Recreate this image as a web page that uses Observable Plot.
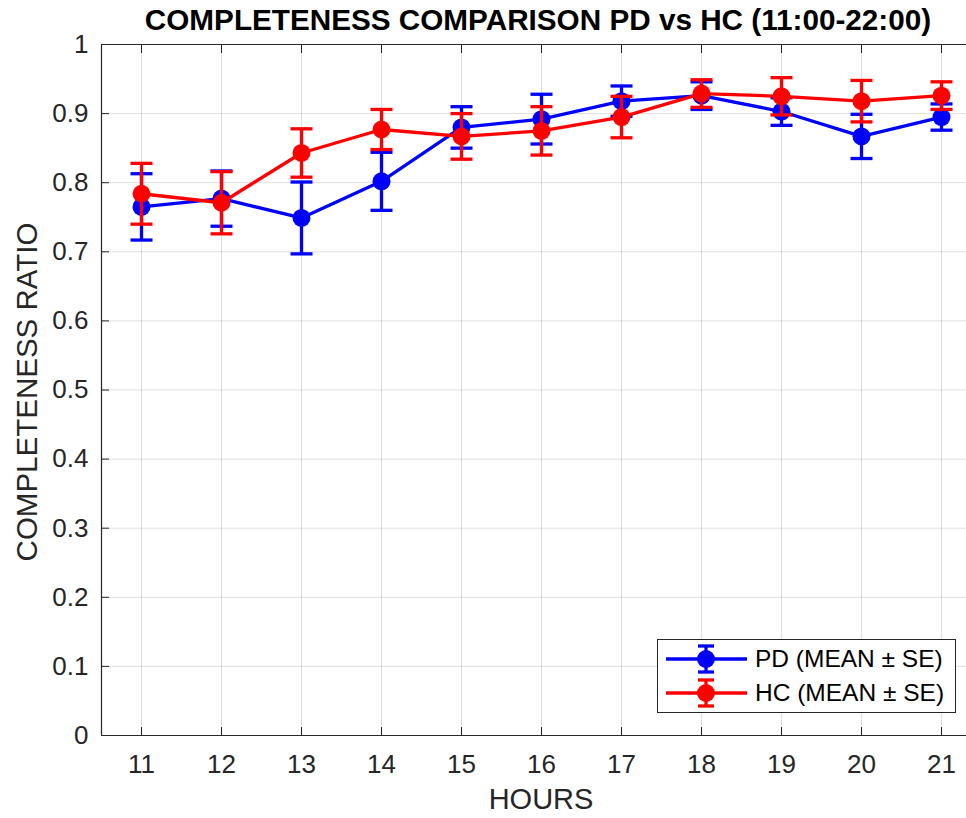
<!DOCTYPE html>
<html><head><meta charset="utf-8">
<script src="https://cdn.jsdelivr.net/npm/d3@7"></script>
<script src="https://cdn.jsdelivr.net/npm/@observablehq/plot@0.6"></script>
<style>
body{margin:0;background:#fff;font-family:"Liberation Sans",Arial,sans-serif;color:#262626;}
#wrap{position:relative;width:966px;height:818px;overflow:hidden;background:#fff;}
#wrap svg.plot{position:absolute;left:0;top:0;}
.title{position:absolute;left:98px;width:880px;top:3px;text-align:center;font-weight:bold;font-size:29.7px;color:#000;white-space:nowrap;}
.xlabel{position:absolute;left:101px;width:880px;top:783px;text-align:center;font-size:29px;}
.ylabel{position:absolute;left:27px;top:392px;transform:translate(-50%,-50%) rotate(-90deg);font-size:29.5px;white-space:nowrap;}
.legend{position:absolute;left:657px;top:639px;width:297px;height:72px;border:1px solid #262626;background:#fff;}
.legend svg{position:absolute;left:0;top:0;}
.legend .lt{position:absolute;left:97px;font-size:24.5px;color:#000;white-space:nowrap;line-height:1;}
</style></head><body><div id="wrap"></div>
<script>
const hours = [11, 12, 13, 14, 15, 16, 17, 18, 19, 20, 21];
const pdMean = [0.765, 0.777, 0.749, 0.802, 0.880, 0.892, 0.918, 0.926, 0.903, 0.867, 0.895];
const pdSE   = [0.048, 0.040, 0.052, 0.042, 0.030, 0.036, 0.022, 0.020, 0.020, 0.032, 0.019];
const hcMean = [0.784, 0.771, 0.843, 0.877, 0.867, 0.875, 0.895, 0.929, 0.925, 0.918, 0.926];
const hcSE   = [0.044, 0.045, 0.035, 0.029, 0.033, 0.035, 0.030, 0.020, 0.027, 0.030, 0.020];
const yTicks = [0, 0.1, 0.2, 0.3, 0.4, 0.5, 0.6, 0.7, 0.8, 0.9, 1];
const xDomain = [10.5, 21.5];
const yDomain = [0, 1];
const seriesNames = ["PD (MEAN \u00b1 SE)", "HC (MEAN \u00b1 SE)"];
const seriesColors = ["#0000ff", "#ff0000"];
const titleText = "COMPLETENESS COMPARISON PD vs HC (11:00-22:00)";
const xLabelText = "HOURS";
const yLabelText = "COMPLETENESS RATIO";

const pd = hours.map((h, i) => ({x: h, m: pdMean[i], lo: pdMean[i] - pdSE[i], hi: pdMean[i] + pdSE[i]}));
const hc = hours.map((h, i) => ({x: h, m: hcMean[i], lo: hcMean[i] - hcSE[i], hi: hcMean[i] + hcSE[i]}));
const cap = 0.1375;

function seriesMarks(data, color) {
  return [
    Plot.ruleX(data, {x: "x", y1: "lo", y2: "hi", stroke: color, strokeWidth: 3.3}),
    Plot.link(data, {x1: d => d.x - cap, x2: d => d.x + cap, y1: "hi", y2: "hi", stroke: color, strokeWidth: 3.3}),
    Plot.link(data, {x1: d => d.x - cap, x2: d => d.x + cap, y1: "lo", y2: "lo", stroke: color, strokeWidth: 3.3}),
    Plot.line(data, {x: "x", y: "m", stroke: color, strokeWidth: 3.3}),
    Plot.dot(data, {x: "x", y: "m", r: 9, fill: color, stroke: null})
  ];
}

const chart = Plot.plot({
  width: 966, height: 818,
  marginTop: 44, marginBottom: 83, marginLeft: 101, marginRight: 0,
  style: {fontFamily: "Liberation Sans, Arial, sans-serif", color: "#262626", background: "transparent"},
  x: {domain: xDomain, range: [101, 981]},
  y: {domain: yDomain},
  marks: [
    Plot.gridX(hours, {stroke: "#000", strokeOpacity: 0.13, strokeWidth: 1}),
    Plot.gridY(yTicks, {stroke: "#000", strokeOpacity: 0.13, strokeWidth: 1}),
    Plot.axisX({ticks: hours, tickSize: -8, tickPadding: 27, fontSize: 26, label: null, stroke: "#262626"}),
    Plot.axisX({anchor: "top", ticks: hours, tickSize: -8, tickFormat: () => "", label: null, stroke: "#262626"}),
    Plot.axisY({ticks: yTicks, tickSize: -8, tickPadding: 21, fontSize: 26, label: null, tickFormat: d => String(d), stroke: "#262626"}),
    Plot.ruleY(yDomain, {stroke: "#262626", strokeWidth: 1.2}),
    Plot.ruleX([xDomain[0]], {stroke: "#262626", strokeWidth: 1.2}),
    ...seriesMarks(pd, seriesColors[0]),
    ...seriesMarks(hc, seriesColors[1])
  ]
});
chart.classList.add("plot");
const wrap = document.getElementById("wrap");
wrap.appendChild(chart);

function addDiv(cls, text) {
  const d = document.createElement("div");
  d.className = cls; d.textContent = text; wrap.appendChild(d); return d;
}
addDiv("title", titleText);
addDiv("xlabel", xLabelText);
addDiv("ylabel", yLabelText);

const leg = document.createElement("div");
leg.className = "legend";
const ns = "http://www.w3.org/2000/svg";
const lsvg = document.createElementNS(ns, "svg");
lsvg.setAttribute("width", 297); lsvg.setAttribute("height", 72);
seriesNames.forEach((name, i) => {
  const cy = 19 + i * 34;
  const c = seriesColors[i];
  const mk = (tag, attrs) => { const e = document.createElementNS(ns, tag); for (const k in attrs) e.setAttribute(k, attrs[k]); lsvg.appendChild(e); };
  mk("line", {x1: 8, x2: 89, y1: cy, y2: cy, stroke: c, "stroke-width": 3.3});
  mk("line", {x1: 48, x2: 48, y1: cy - 13, y2: cy + 13, stroke: c, "stroke-width": 3.3});
  mk("line", {x1: 40, x2: 56, y1: cy - 13, y2: cy - 13, stroke: c, "stroke-width": 3.3});
  mk("line", {x1: 40, x2: 56, y1: cy + 13, y2: cy + 13, stroke: c, "stroke-width": 3.3});
  mk("circle", {cx: 48, cy: cy, r: 9, fill: c});
  const t = document.createElement("div");
  t.className = "lt"; t.textContent = name; t.style.top = (cy - 12) + "px";
  leg.appendChild(t);
});
leg.insertBefore(lsvg, leg.firstChild);
wrap.appendChild(leg);
</script></body></html>
